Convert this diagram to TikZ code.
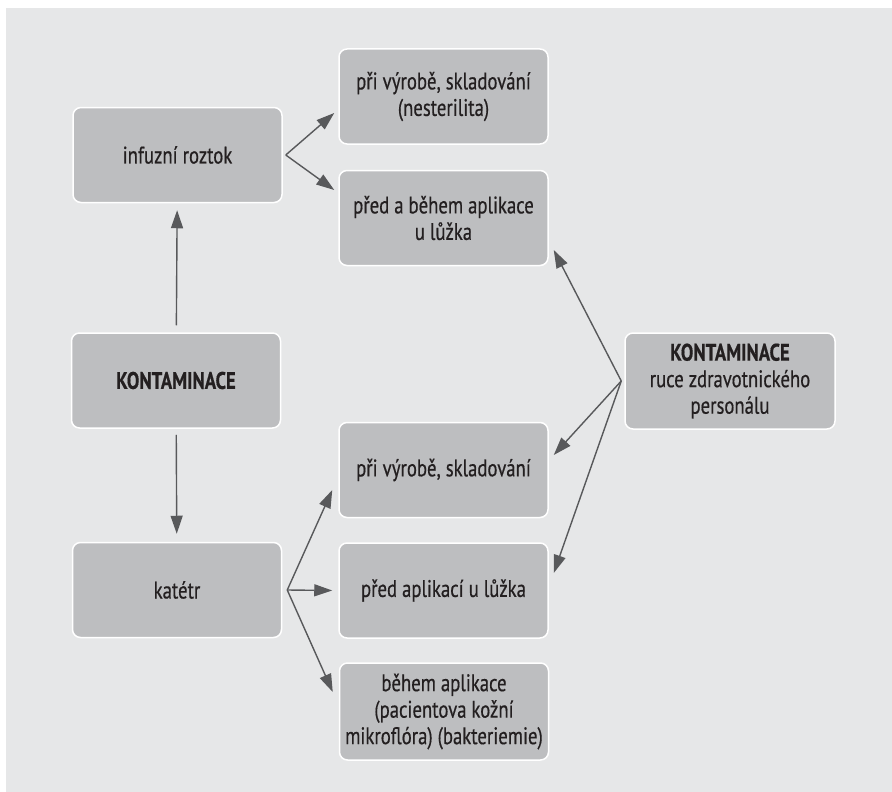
\documentclass[tikz,border=0pt]{standalone}
\usepackage{fontspec}
\setmainfont{PT Sans}[FakeStretch=0.78, FakeBold=0.5]
\usepackage{xcolor}
\usepackage{tikz}
\usetikzlibrary{arrows.meta,positioning,calc}
\definecolor{bggray}{HTML}{E6E7E8}
\definecolor{boxgray}{HTML}{BDBEC0}
\definecolor{linegray}{HTML}{58595B}
\definecolor{txt}{HTML}{231F20}
\tikzset{
  box/.style = {draw = white, line width = 1.5pt, fill = boxgray, rounded corners = 8pt,
    minimum width = 209pt, minimum height = 95pt, align = center, text = txt,
    font = \fontsize{24}{26.5}\selectfont},
  arr/.style = {-{Triangle[length = 18pt, width = 12pt]}, draw = linegray, line width = 1.4pt}
}

\begin{document}
\begin{tikzpicture}[x = 1pt, y = -1pt]
\useasboundingbox (0,0) rectangle (892,792);
\fill[bggray] (6,8) rectangle (892,792);
\node[box] (infuze) at (177.5,155) {infuzní roztok};
\node[box] (kont) at (176,380.5) {\textbf{KONTAMINACE}};
\node[box] (katetr) at (177,590) {katétr};
\node[box] (vyroba) at (443.5,96.5) {při výrobě, skladování\\(nesterilita)};
\node[box] (behem) at (443.5,218) {před a během aplikace\\u lůžka};
\node[box] (sklad) at (443.5,470) {při výrobě, skladování};
\node[box] (pred) at (443.5,590.5) {před aplikací u lůžka};
\node[box, minimum height = 97pt] (koze) at (444,711.5) {během aplikace\\(pacientova kožní\\mikroflóra) (bakteriemie)};
\node[box, minimum width = 210pt, minimum height = 96pt] (ruce) at (730,381) {\textbf{KONTAMINACE}\\ruce zdravotnického\\personálu};
\coordinate (fi) at ([xshift = 3pt]infuze.east);
\coordinate (fk) at ([xshift = 5pt]katetr.east);
\coordinate (fr) at ([xshift = -3pt]ruce.west);
\draw[arr, shorten < = 7pt, shorten > = 7pt] (kont) -- (infuze);
\draw[arr, shorten < = 6pt, shorten > = 8pt] (kont) -- (katetr);
\draw[arr] (fi) -- ([shift = {(-4,16.5)}]vyroba.west);
\draw[arr] (fi) -- ([shift = {(-4,-28)}]behem.west);
\draw[arr] (fk) -- ([shift = {(-6,20)}]sklad.west);
\draw[arr] (fk) -- ([shift = {(-6,0)}]pred.west);
\draw[arr] (fk) -- ([shift = {(-6,-19.5)}]koze.west);
\draw[arr] (fr) -- ([shift = {(5,32)}]behem.east);
\draw[arr] (fr) -- ([shift = {(5,-15)}]sklad.east);
\draw[arr] (fr) -- ([shift = {(5,-17.5)}]pred.east);
\end{tikzpicture}
\end{document}
